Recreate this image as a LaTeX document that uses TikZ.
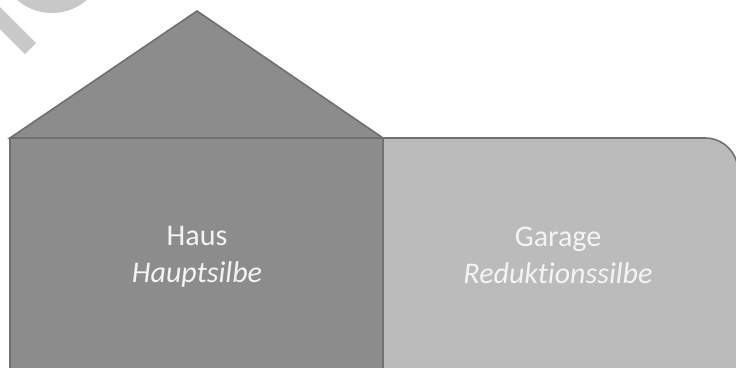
\documentclass[tikz,border=0pt]{standalone}
\usepackage{fontspec}
\setmainfont{Carlito}[Ligatures={NoCommon}]
\definecolor{hausfill}{HTML}{8C8C8C}
\definecolor{garagefill}{HTML}{BBBBBB}
\definecolor{edge}{HTML}{707070}
\definecolor{wm}{HTML}{C8C8C8}
\definecolor{txt}{HTML}{F4F4F4}
\begin{document}
\begin{tikzpicture}[x=1pt,y=-1pt,
  part/.style={draw=edge,line width=1.6pt,line join=miter},
  label/.style={text=txt,font=\fontsize{30}{37}\selectfont,align=center}]
\useasboundingbox (0,0) rectangle (736,367);
\fill[white] (0,0) rectangle (736,367);
% watermark fragments
\begin{scope}
  \clip (0,0) rectangle (736,367);
  \fill[wm] (52,-40) circle[radius=53];
  \fill[wm] (0,7) -- (36,43) -- (25,54) -- (0,29) -- cycle;
\end{scope}
\begin{scope}
  \clip (0,0) rectangle (736,367);
  % garage
  \path[part,fill=garagefill] (383,400) -- (383,138) -- (705,138)
     arc[start angle=-90,end angle=0,radius=33] -- (738,400) -- cycle;
  % house body
  \path[part,fill=hausfill] (10,400) -- (10,138) -- (383,138) -- (383,400) -- cycle;
  % roof
  \path[part,fill=hausfill] (10,138) -- (197,11) -- (383,138) -- cycle;
\end{scope}
\node[label] (haus) at (197,257) {Haus\\\itshape Hauptsilbe};
\node[label] (garage) at (558,255) {Garage\\\itshape Reduktionssilbe};
\end{tikzpicture}
\end{document}
